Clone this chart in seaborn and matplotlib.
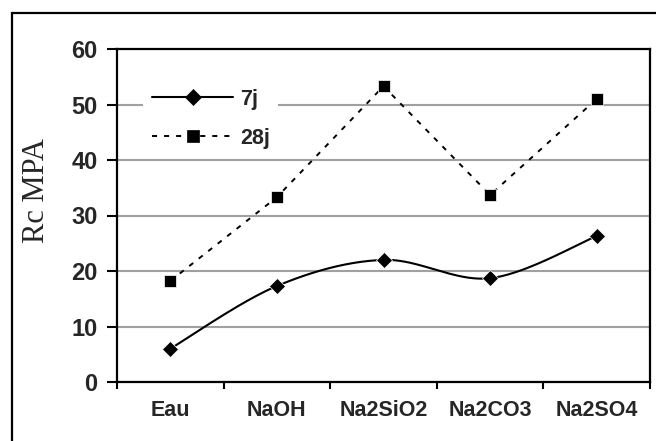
import numpy as np
import matplotlib
matplotlib.use("Agg")
import matplotlib.pyplot as plt
import seaborn as sns
from matplotlib.lines import Line2D
from matplotlib.patches import Rectangle

# Compressive strength (MPa) by curing solution, at 7 and 28 days
categories = ["Eau", "NaOH", "Na2SiO2", "Na2CO3", "Na2SO4"]
rc_7j = [6.0, 17.3, 22.0, 18.7, 26.3]
rc_28j = [18.2, 33.3, 53.3, 33.7, 51.0]
series_labels = ["7j", "28j"]
y_ticks = [0, 10, 20, 30, 40, 50, 60]
y_label = "Rc MPA"


def smooth_curve(y, n=40):
    """Cubic Bezier smoothing through every point (Catmull-Rom style)."""
    x = np.arange(len(y), dtype=float)
    pts = np.column_stack([x, np.asarray(y, dtype=float)])
    padded = np.vstack([pts[0], pts, pts[-1]])
    t = np.linspace(0, 1, n)[:, None]
    out = []
    for i in range(len(pts) - 1):
        p0, p1, p2, p3 = padded[i], padded[i + 1], padded[i + 2], padded[i + 3]
        c1 = p1 + (p2 - p0) / 6.0
        c2 = p2 - (p3 - p1) / 6.0
        seg = ((1 - t) ** 3) * p1 + 3 * ((1 - t) ** 2) * t * c1 \
            + 3 * (1 - t) * (t ** 2) * c2 + (t ** 3) * p2
        out.append(seg if i == 0 else seg[1:])
    return np.vstack(out)


sns.set_theme(style="white")
plt.rcParams["font.family"] = ["Liberation Sans", "DejaVu Sans"]

fig = plt.figure(figsize=(6.56, 4.41), dpi=100)
ax = fig.add_axes([117 / 656, 1 - 382 / 441, 533 / 656, 333 / 441])

idx = np.arange(len(categories))
dash_style = (0, (2.6, 3.6))

# 7 days: smoothed curve plus diamond markers
curve = smooth_curve(rc_7j)
sns.lineplot(x=curve[:, 0], y=curve[:, 1], ax=ax, color="black", lw=1.5,
             sort=False, estimator=None, zorder=3)
sns.lineplot(x=idx, y=rc_7j, ax=ax, color="black", linestyle="",
             marker="D", markersize=8.5, markeredgewidth=0.5, zorder=4)

# 28 days: straight dashed segments with square markers
sns.lineplot(x=idx, y=rc_28j, ax=ax, color="black", lw=1.4,
             linestyle=dash_style, marker="s", markersize=9,
             markeredgewidth=0.5, zorder=4)

ax.set_xlim(-0.5, len(categories) - 0.5)
ax.set_ylim(0, 60)
ax.set_yticks(y_ticks)
ax.set_yticklabels([str(v) for v in y_ticks], fontsize=17, fontweight="bold")
ax.set_xticks(idx)
ax.set_xticklabels(categories, fontsize=15.5, fontweight="bold")
ax.set_xticks(np.arange(-0.5, len(categories)), minor=True)
ax.tick_params(axis="x", which="major", length=0, pad=13)
ax.tick_params(axis="x", which="minor", length=5, width=1.5, color="black",
               direction="out", bottom=True)
ax.tick_params(axis="y", which="major", length=7, width=1.5, color="black",
               direction="out", left=True, pad=7)

ax.yaxis.grid(True, color="#a0a0a0", lw=1.5)
ax.xaxis.grid(False)
ax.set_axisbelow(True)
for side in ["left", "right", "top", "bottom"]:
    ax.spines[side].set_visible(True)
    ax.spines[side].set_color("black")
    ax.spines[side].set_linewidth(1.6)

ax.set_xlabel("")
ax.set_ylabel(y_label, fontsize=22, family=["Liberation Serif", "DejaVu Serif"])
ax.yaxis.label.set_va("center")
ax.yaxis.set_label_coords((36 - 117) / 533, (382 - 191) / 333)

handles = [
    Line2D([], [], color="black", lw=1.5, marker="D", markersize=8.5,
           markeredgewidth=0.5),
    Line2D([], [], color="black", lw=1.4, linestyle=dash_style, marker="s",
           markersize=9, markeredgewidth=0.5),
]
leg = ax.legend(handles, series_labels, loc="upper left",
                bbox_to_anchor=((143 - 117) / 533, (382 - 80) / 333),
                borderaxespad=0, borderpad=0.4, handlelength=3.8,
                handletextpad=0.3, labelspacing=0.85, frameon=True,
                framealpha=1, facecolor="white", edgecolor="none",
                fancybox=False, prop={"size": 15.5, "weight": "bold"})
leg.set_zorder(5)

# Outer chart frame
fig.patches.append(Rectangle((12 / 656, -0.05), 1.2, 1 - 13 / 441 + 0.05,
                             transform=fig.transFigure, fill=False,
                             edgecolor="black", lw=1.6, clip_on=False))

fig.savefig("out.png", dpi=100)
